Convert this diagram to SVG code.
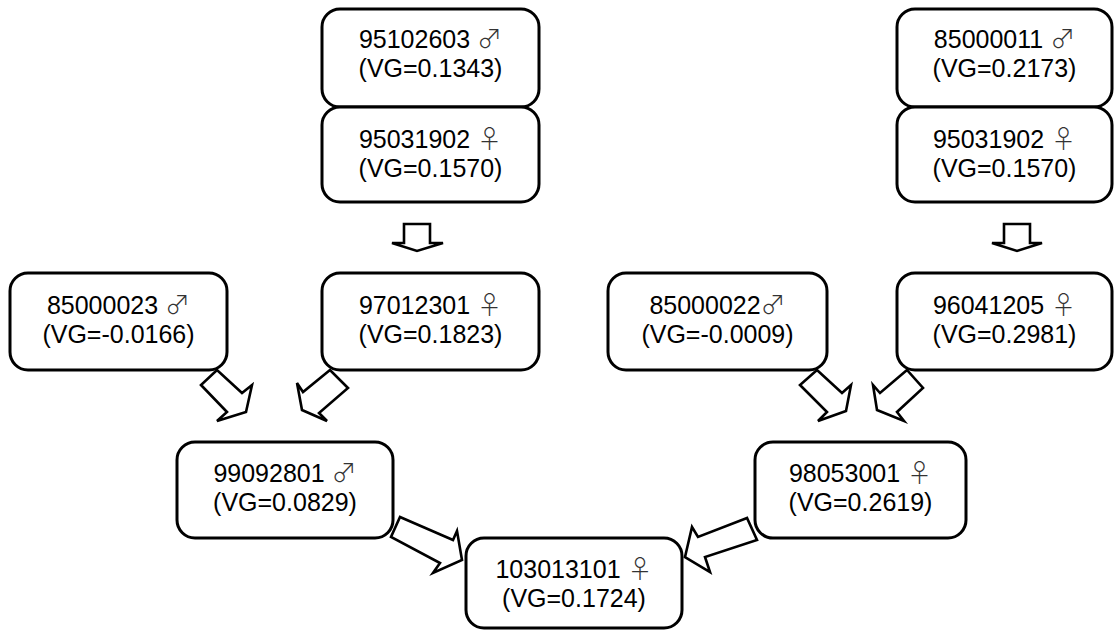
<svg xmlns="http://www.w3.org/2000/svg" width="1116" height="631" viewBox="0 0 1116 631">
<style>
.box{fill:#fff;stroke:#000;stroke-width:3}
.arr{fill:#fff;stroke:#000;stroke-width:2.6;stroke-linejoin:miter}
text{font-family:"Liberation Sans",Arial,sans-serif;font-size:25px;fill:#000;text-anchor:middle}
.sym{font-family:"Noto Sans CJK SC","DejaVu Sans",sans-serif;font-weight:300;fill:#333}
</style>
<rect width="1116" height="631" fill="#fff"/>
<g id="n95102603"><rect class="box" x="322" y="9" width="217" height="98" rx="18"/><text x="430.5" y="48">95102603 <tspan class="sym">♂&#xFE0E;</tspan></text><text x="430.5" y="77">(VG=0.1343)</text></g>
<g id="n95031902a"><rect class="box" x="322" y="107" width="217" height="95" rx="18"/><text x="430.5" y="148">95031902 <tspan class="sym">♀&#xFE0E;</tspan></text><text x="430.5" y="177">(VG=0.1570)</text></g>
<g id="n85000011"><rect class="box" x="897" y="9" width="215" height="98" rx="18"/><text x="1004.5" y="48">85000011 <tspan class="sym">♂&#xFE0E;</tspan></text><text x="1004.5" y="77">(VG=0.2173)</text></g>
<g id="n95031902b"><rect class="box" x="897" y="107" width="215" height="95" rx="18"/><text x="1004.5" y="148">95031902 <tspan class="sym">♀&#xFE0E;</tspan></text><text x="1004.5" y="177">(VG=0.1570)</text></g>
<g id="n85000023"><rect class="box" x="10" y="273" width="217" height="97" rx="18"/><text x="118.5" y="314">85000023 <tspan class="sym">♂&#xFE0E;</tspan></text><text x="118.5" y="343">(VG=-0.0166)</text></g>
<g id="n97012301"><rect class="box" x="322" y="273" width="217" height="97" rx="18"/><text x="430.5" y="314">97012301 <tspan class="sym">♀&#xFE0E;</tspan></text><text x="430.5" y="343">(VG=0.1823)</text></g>
<g id="n85000022"><rect class="box" x="608" y="273" width="219" height="97" rx="18"/><text x="717.5" y="314">85000022<tspan class="sym">♂&#xFE0E;</tspan></text><text x="717.5" y="343">(VG=-0.0009)</text></g>
<g id="n96041205"><rect class="box" x="897" y="273" width="215" height="97" rx="18"/><text x="1004.5" y="314">96041205 <tspan class="sym">♀&#xFE0E;</tspan></text><text x="1004.5" y="343">(VG=0.2981)</text></g>
<g id="n99092801"><rect class="box" x="177" y="442" width="216" height="96" rx="18"/><text x="285" y="482">99092801 <tspan class="sym">♂&#xFE0E;</tspan></text><text x="285" y="511">(VG=0.0829)</text></g>
<g id="n98053001"><rect class="box" x="755" y="442" width="211" height="96" rx="18"/><text x="860.5" y="482">98053001 <tspan class="sym">♀&#xFE0E;</tspan></text><text x="860.5" y="511">(VG=0.2619)</text></g>
<g id="n103013101"><rect class="box" x="466" y="538" width="216" height="90" rx="18"/><text x="574" y="578">103013101 <tspan class="sym">♀&#xFE0E;</tspan></text><text x="574" y="607">(VG=0.1724)</text></g>
<g id="connectors">
<polygon class="arr" points="404,224 430,224 430,243 443,243 417,251 392,243 404,243"/>
<polygon class="arr" points="1004,224 1030,224 1030,243 1042,243 1017,251 992,243 1004,243"/>
<polygon class="arr" points="201,385 227,412 217,421 246,412 252,385 242,393 217,370"/>
<polygon class="arr" points="330,370 303,392 297,383 302,410 327,421 319,413 348,388"/>
<polygon class="arr" points="800,385 827,412 818,421 846,411 851,385 842,393 817,370"/>
<polygon class="arr" points="907,370 880,393 873,385 877,410 904,421 897,412 923,388"/>
<polygon class="arr" points="400,517 453,540 457,531 462,560 433,573 440,563 391,537"/>
<polygon class="arr" points="747,518 698,537 692,527 685,557 710,572 705,557 757,540"/>
</g>
</svg>
